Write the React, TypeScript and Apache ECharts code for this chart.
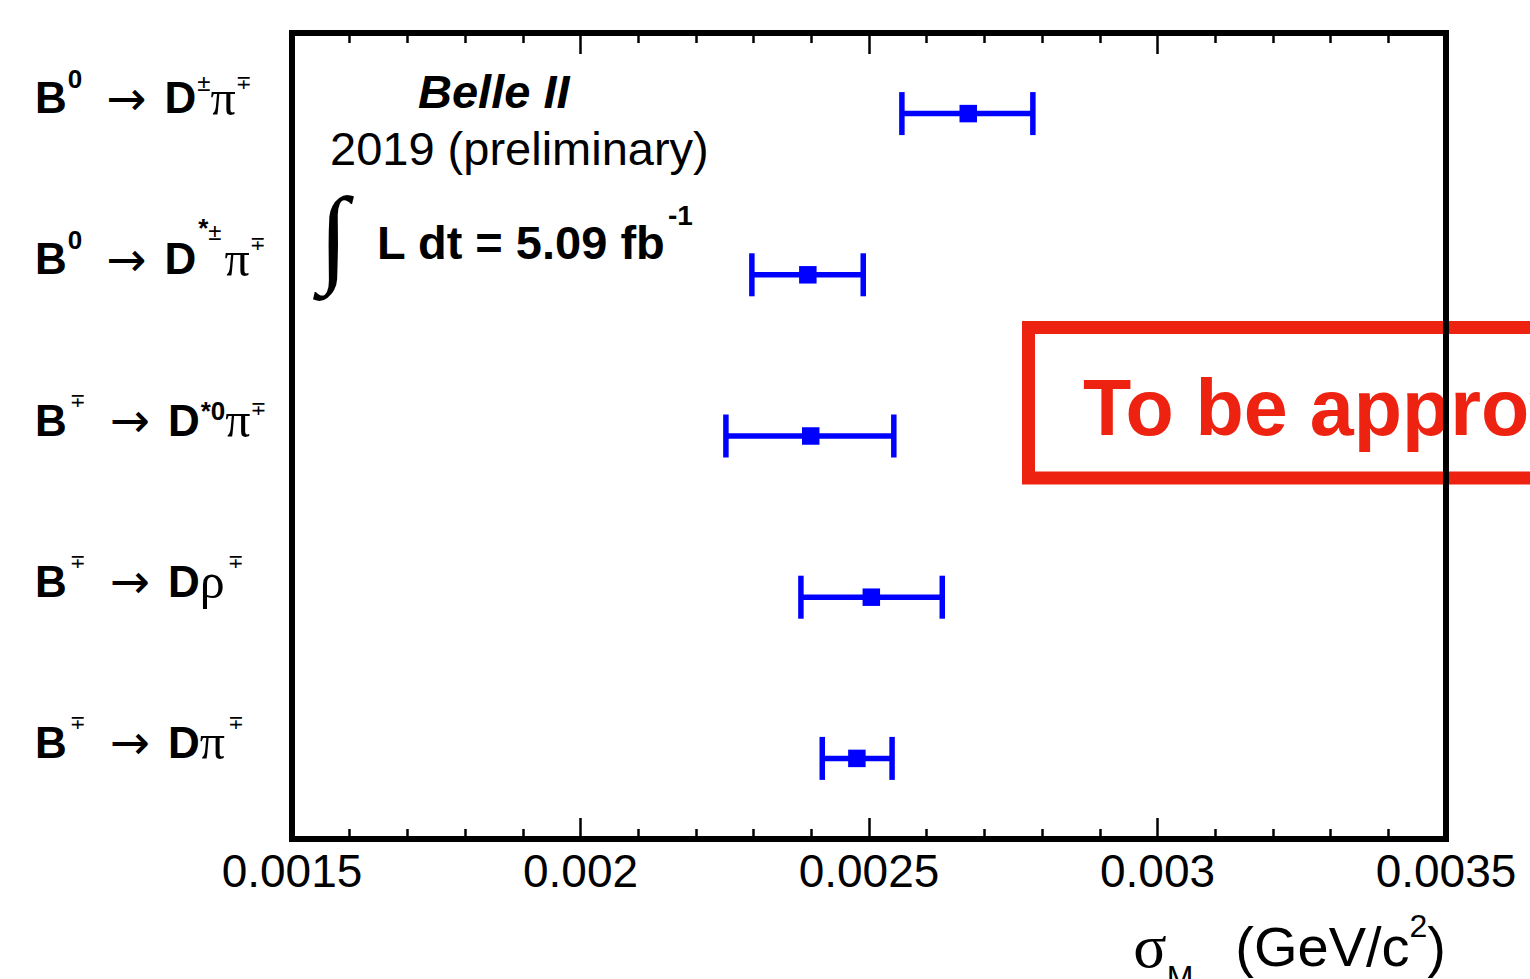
import React, { useEffect, useRef } from 'react';
import * as echarts from 'echarts';

const SANS = '"Liberation Sans", Arial, Helvetica, sans-serif';
const SERIF = '"Liberation Serif", "Times New Roman", serif';
const DEJAVU = '"DejaVu Sans", sans-serif';
const BLUE = '#0000ff';
const RED = '#ee2211';

// Decay channels (top to bottom), rich-text labels
const decayLabels = [
  '{b|B}{sup0|0}{arr|→}{b|D}{pm|±}{pi|π}{mp|∓}',
  '{b|B}{sup0|0}{arr|→}{b|D}{st|*}{hi|±}{pi2|π}{mp|∓}',
  '{b|B}{mpB|∓}{arr|→}{b|D}{lo|*0}{pi|π}{mpLo|∓}',
  '{b|B}{mpB|∓}{arr|→}{b|D}{rho|ρ}{mpB|∓}',
  '{b|B}{mpB|∓}{arr|→}{b|D}{pi|π}{mpB|∓}',
];

// Mass resolution sigma_M (GeV/c^2): central value and error-bar ends
const sigmaCenter = [0.002672, 0.002394, 0.002399, 0.002504, 0.002479];
const sigmaLow = [0.002557, 0.002297, 0.002252, 0.002382, 0.002419];
const sigmaHigh = [0.002784, 0.00249, 0.002543, 0.002627, 0.00254];

const xMin = 0.0015;
const xMax = 0.0035;
const xStep = 0.0005;
const xTickLabels = ['0.0015', '0.002', '0.0025', '0.003', '0.0035'];

const xTitle = '{s|σ}{sub|M}{n|(GeV/c}{sup|2}{n|)}';
const expName = 'Belle II';
const yearText = '2019 (preliminary)';
const lumiText = 'L dt = 5.09 fb';
const lumiExp = '-1';
const stampText = 'To be approved';

export default function App() {
  const ref = useRef<HTMLDivElement>(null);

  useEffect(() => {
    if (!ref.current) return;
    const chart = echarts.init(ref.current, undefined, { renderer: 'svg' });

    const tickCommon = {
      type: 'value' as const,
      min: xMin,
      max: xMax,
      interval: xStep,
      splitLine: { show: false },
      axisLine: { show: false },
      axisTick: { show: true, inside: true, length: 21, lineStyle: { color: '#000', width: 2.5 } },
      minorTick: { show: true, splitNumber: 5, length: 10, lineStyle: { color: '#000', width: 2.5 } },
    };

    const supBase = { fontFamily: SANS, fontSize: 26, color: '#000' };
    const mpBase = { fontFamily: DEJAVU, fontSize: 19, color: '#000' };

    const option: any = {
      animation: false,
      backgroundColor: '#ffffff',
      textStyle: { fontFamily: SANS },
      grid: {
        left: 292,
        width: 1154,
        top: 33,
        height: 806,
        containLabel: false,
        outerBoundsMode: 'none',
        show: true,
        borderColor: '#000',
        borderWidth: 6,
        backgroundColor: 'transparent',
        z: 5,
      },
      xAxis: [
        {
          ...tickCommon,
          position: 'bottom',
          axisLabel: {
            show: true,
            margin: 9,
            color: '#000',
            fontFamily: SANS,
            fontSize: 46,
            formatter: (v: number) => xTickLabels[Math.round((v - xMin) / xStep)] ?? '',
          },
          name: xTitle,
          nameLocation: 'end',
          nameGap: 0,
          nameTextStyle: {
            align: 'right',
            verticalAlign: 'middle',
            padding: [214, 0, 0, 0],
            rich: {
              s: { fontFamily: SERIF, fontSize: 62, color: '#000' },
              sub: { fontFamily: SANS, fontSize: 32, color: '#000', padding: [62, 42, 0, 0] },
              n: { fontFamily: SANS, fontSize: 56, color: '#000' },
              sup: { fontFamily: SANS, fontSize: 32, color: '#000', padding: [0, 0, 40, 0] },
            },
          },
        },
        {
          ...tickCommon,
          position: 'top',
          axisLabel: { show: false },
        },
      ],
      yAxis: {
        type: 'category',
        data: decayLabels,
        inverse: true,
        axisLine: { show: false },
        axisTick: { show: false },
        splitLine: { show: false },
        axisLabel: {
          interval: 0,
          align: 'left',
          margin: 257,
          padding: [0, 0, 32, 0],
          formatter: (v: string) => v,
          rich: {
            b: { fontFamily: SANS, fontSize: 44, fontWeight: 'bold', color: '#000' },
            sup0: { ...supBase, fontWeight: 'bold', padding: [0, 0, 38, 1] },
            pm: { ...supBase, fontSize: 24, padding: [0, 0, 30, 1] },
            mp: { ...mpBase, padding: [0, 0, 32, 0] },
            mpB: { ...mpBase, padding: [0, 0, 40, 3] },
            mpLo: { ...mpBase, padding: [0, 0, 24, 0] },
            st: { ...supBase, fontWeight: 'bold', padding: [0, 0, 62, 2] },
            hi: { ...supBase, fontSize: 24, padding: [0, 0, 54, 0] },
            lo: { ...supBase, fontWeight: 'bold', padding: [0, 0, 18, 1] },
            arr: { fontFamily: DEJAVU, fontSize: 48, color: '#000', padding: [0, 18, 0, 24] },
            pi: { fontFamily: SERIF, fontSize: 50, color: '#000' },
            pi2: { fontFamily: SERIF, fontSize: 50, color: '#000', padding: [0, 0, 0, 3] },
            rho: { fontFamily: SERIF, fontSize: 50, color: '#000' },
          },
        },
      },
      series: [
        {
          type: 'custom',
          data: decayLabels.map((_, i) => [i, sigmaCenter[i], sigmaLow[i], sigmaHigh[i]]),
          encode: { x: [1, 2, 3], y: 0 },
          z: 10,
          renderItem: (params: any, api: any) => {
            const c = api.coord([api.value(1), api.value(0)]);
            const lo = api.coord([api.value(2), api.value(0)]);
            const hi = api.coord([api.value(3), api.value(0)]);
            const y = c[1];
            const lw = 5.5;
            const cap = 21.5;
            const sq = 17.5;
            const st = { stroke: BLUE, lineWidth: lw, fill: 'none' };
            return {
              type: 'group',
              children: [
                { type: 'line', shape: { x1: lo[0], y1: y, x2: hi[0], y2: y }, style: st },
                { type: 'line', shape: { x1: lo[0], y1: y - cap, x2: lo[0], y2: y + cap }, style: st },
                { type: 'line', shape: { x1: hi[0], y1: y - cap, x2: hi[0], y2: y + cap }, style: st },
                { type: 'rect', shape: { x: c[0] - sq / 2, y: y - sq / 2, width: sq, height: sq }, style: { fill: BLUE } },
              ],
            };
          },
        },
      ],
      graphic: {
        elements: [
          {
            type: 'rect',
            z: -10,
            shape: { x: 1028.5, y: 327.5, width: 700, height: 150.5 },
            style: { fill: 'none', stroke: RED, lineWidth: 13 },
          },
          {
            type: 'text',
            z: -10,
            x: 1083,
            y: 407,
            style: { text: stampText, fill: RED, fontFamily: SANS, fontWeight: 'bold', fontSize: 79, align: 'left', verticalAlign: 'middle' },
          },
          {
            type: 'text',
            x: 418,
            y: 91,
            style: { text: expName, fill: '#000', fontFamily: SANS, fontWeight: 'bold', fontStyle: 'italic', fontSize: 47, align: 'left', verticalAlign: 'middle' },
          },
          {
            type: 'text',
            x: 330,
            y: 148,
            style: { text: yearText, fill: '#000', fontFamily: SANS, fontSize: 47, align: 'left', verticalAlign: 'middle' },
          },
          {
            type: 'text',
            x: 319,
            y: 235,
            style: { text: '∫', fill: '#000', fontFamily: SERIF, fontWeight: 'bold', fontSize: 108, align: 'left', verticalAlign: 'middle' },
          },
          {
            type: 'text',
            x: 377,
            y: 242,
            style: { text: lumiText, fill: '#000', fontFamily: SANS, fontWeight: 'bold', fontSize: 47, align: 'left', verticalAlign: 'middle' },
          },
          {
            type: 'text',
            x: 668,
            y: 215,
            style: { text: lumiExp, fill: '#000', fontFamily: SANS, fontWeight: 'bold', fontSize: 28, align: 'left', verticalAlign: 'middle' },
          },
        ],
      },
    };

    chart.setOption(option);
    return () => chart.dispose();
  }, []);

  return (
    <div
      ref={ref}
      style={{ position: 'absolute', left: 0, top: 0, width: 1530, height: 979, overflow: 'hidden', background: '#fff' }}
    />
  );
}
